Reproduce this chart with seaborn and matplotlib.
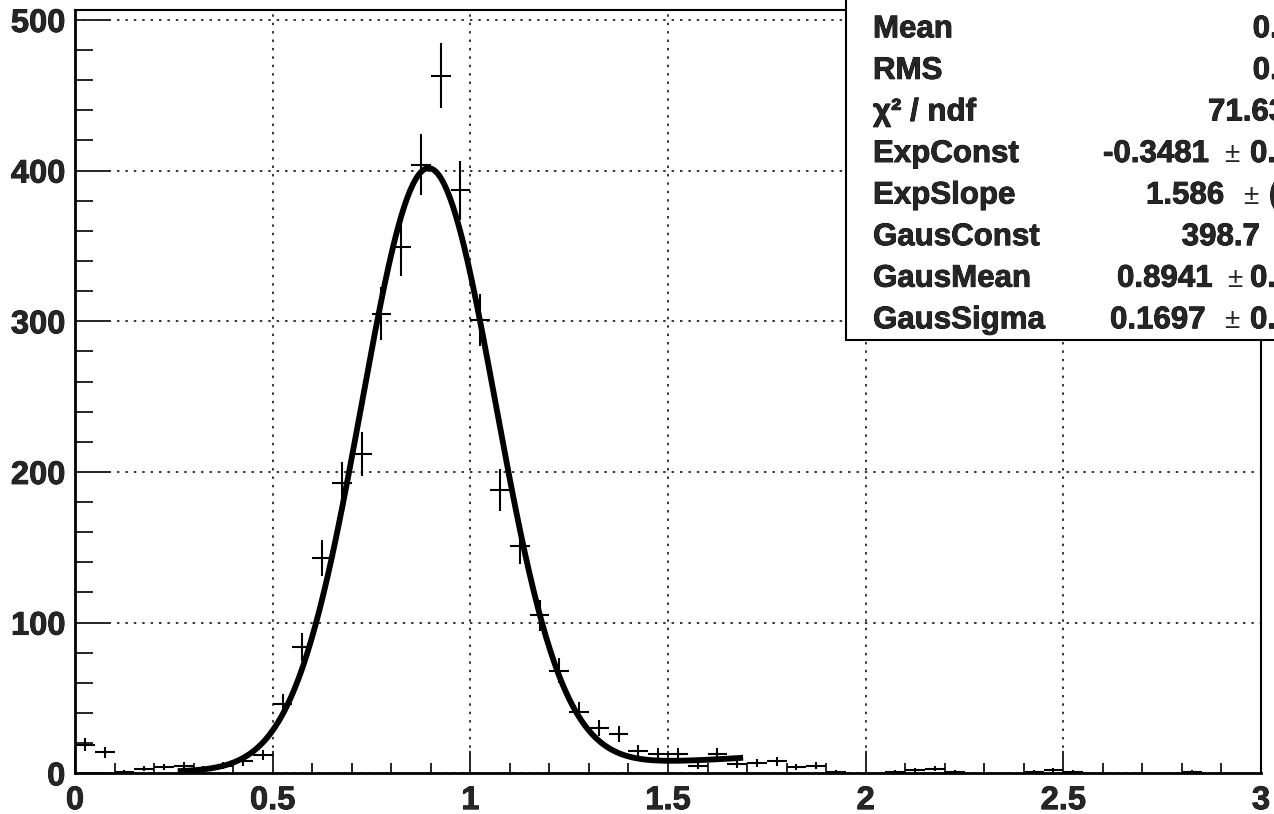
import numpy as np
import pandas as pd
import matplotlib
matplotlib.use("Agg")
import matplotlib.pyplot as plt
import matplotlib.patheffects as pe
from matplotlib.patches import Rectangle
from matplotlib.ticker import MultipleLocator
import seaborn as sns

# ---- histogram contents (bin width 0.05, 0..3) ----
bin_centers = np.round(np.arange(0.025, 3.0, 0.05), 3)
counts = [19, 14, 1, 3, 4, 5, 3, 5, 8, 12,
          46, 84, 143, 193, 212, 305, 349, 404, 463, 387,
          301, 188, 151, 105, 68, 41, 30, 26, 15, 13,
          13, 5, 13, 6, 7, 8, 4, 5, 1, 0,
          0, 1, 2, 3, 1, 0, 0, 0, 1, 2,
          1, 0, 0, 0, 0, 0, 1, 0, 0, 0]

# ---- fit parameters from the stats box ----
exp_const, exp_slope = -0.3481, 1.586
gaus_const, gaus_mean, gaus_sigma = 398.7, 0.8941, 0.1697
fit_lo, fit_hi = 0.26, 1.69

# stats box rows: label, value, error (None = no error shown)
stat_names = ["Mean", "RMS", "\u03c7\u00b2 / ndf", "ExpConst", "ExpSlope",
              "GausConst", "GausMean", "GausSigma"]
stat_values = ["0.9012", "0.2315", "71.63 / 40", "-0.3481", "1.586",
               "398.7", "0.8941", "0.1697"]
stat_errors = [None, None, None, "0.0492", "(0.037)", "8.2", "0.0021", "0.0019"]
# pixel positions (value left edge, \u00b1 left edge, error left edge)
stat_value_x = [1252.7, 1252.7, 1208, 1103, 1146, 1181.7, 1117, 1110]
stat_pm_x = [None, None, None, 1224, 1243, 1282, 1227, 1224]
stat_err_x = [None, None, None, 1250, 1269, 1300, 1250, 1250]

hist = pd.DataFrame({"x": bin_centers, "n": counts})
hist = hist[hist["n"] > 0]

xf = np.linspace(fit_lo, fit_hi, 400)
fit = pd.DataFrame({
    "x": xf,
    "y": np.exp(exp_const + exp_slope * xf)
         + gaus_const * np.exp(-0.5 * ((xf - gaus_mean) / gaus_sigma) ** 2),
})

sns.set_style("white")
plt.rcParams["font.family"] = ["Liberation Sans", "DejaVu Sans"]
plt.rcParams["font.weight"] = "bold"

heavy = [pe.withStroke(linewidth=0.6, foreground="black")]

W, H = 1274, 814
fig = plt.figure(figsize=(W / 100, H / 100), dpi=100)
ax = fig.add_axes([75 / W, 1 - 773.3 / H, (1261 - 75) / W, (773.3 - 10) / H])

ax.set_xlim(0, 3)
ax.set_ylim(0, 506.6)
ax.xaxis.set_major_locator(MultipleLocator(0.5))
ax.xaxis.set_minor_locator(MultipleLocator(0.1))
ax.yaxis.set_major_locator(MultipleLocator(100))
ax.yaxis.set_minor_locator(MultipleLocator(20))
ax.grid(True, which="major", color="black", linewidth=1.1,
        linestyle=(0, (1.6, 3.9)), zorder=0)
ax.set_axisbelow(True)

# data points with sqrt(N) errors
ax.errorbar(hist["x"], hist["n"], xerr=0.025, yerr=np.sqrt(hist["n"]),
            fmt="none", ecolor="black", elinewidth=1.5, capsize=0, zorder=3)

# fit curve
sns.lineplot(data=fit, x="x", y="y", ax=ax, color="black", linewidth=4.2,
             solid_capstyle="butt", zorder=4)

ax.set_xlabel("")
ax.set_ylabel("")

ax.xaxis.set_major_formatter(plt.FuncFormatter(lambda v, p: "%g" % v))
ax.yaxis.set_major_formatter(plt.FuncFormatter(lambda v, p: "%g" % v))

for s in ["left", "bottom"]:
    ax.spines[s].set_linewidth(2.0)
for s in ["top", "right"]:
    ax.spines[s].set_linewidth(1.5)
for s in ax.spines.values():
    s.set_color("black")
    s.set_zorder(5)

ax.tick_params(axis="x", which="major", direction="in", length=15.8, width=1.4,
               labelsize=23.5, pad=8.5, top=False, bottom=True)
ax.tick_params(axis="x", which="minor", direction="in", length=7.5, width=1.4,
               top=False, bottom=True)
ax.tick_params(axis="y", which="major", direction="in", length=25, width=1.4,
               labelsize=23.5, pad=7, right=False, left=True)
ax.tick_params(axis="y", which="minor", direction="in", length=13, width=1.4,
               right=False, left=True)
for lab in ax.get_xticklabels() + ax.get_yticklabels():
    lab.set_fontweight("bold")
    lab.set_path_effects(heavy)

# stats box (runs off the top and right of the canvas)
box = Rectangle((846 / W, 1 - 340 / H), 0.5, 0.6, transform=fig.transFigure,
                facecolor="white", edgecolor="black", linewidth=1.5,
                zorder=10, clip_on=False)
fig.add_artist(box)

for i in range(len(stat_names)):
    yb = 1 - (37.3 + 41.57 * i) / H
    fig.text(873 / W, yb, stat_names[i], fontsize=22.5, fontweight="bold",
             va="baseline", ha="left", zorder=11, path_effects=heavy)
    fig.text(stat_value_x[i] / W, yb, stat_values[i], fontsize=22.5,
             fontweight="bold", va="baseline", ha="left", zorder=11,
             path_effects=heavy)
    if stat_errors[i] is not None:
        fig.text(stat_pm_x[i] / W, yb, "\u00b1", fontsize=20,
                 fontweight="normal", va="baseline", ha="left", zorder=11)
        fig.text(stat_err_x[i] / W, yb, stat_errors[i], fontsize=22.5,
                 fontweight="bold", va="baseline", ha="left", zorder=11,
                 path_effects=heavy)

fig.savefig("out.png", dpi=100)
